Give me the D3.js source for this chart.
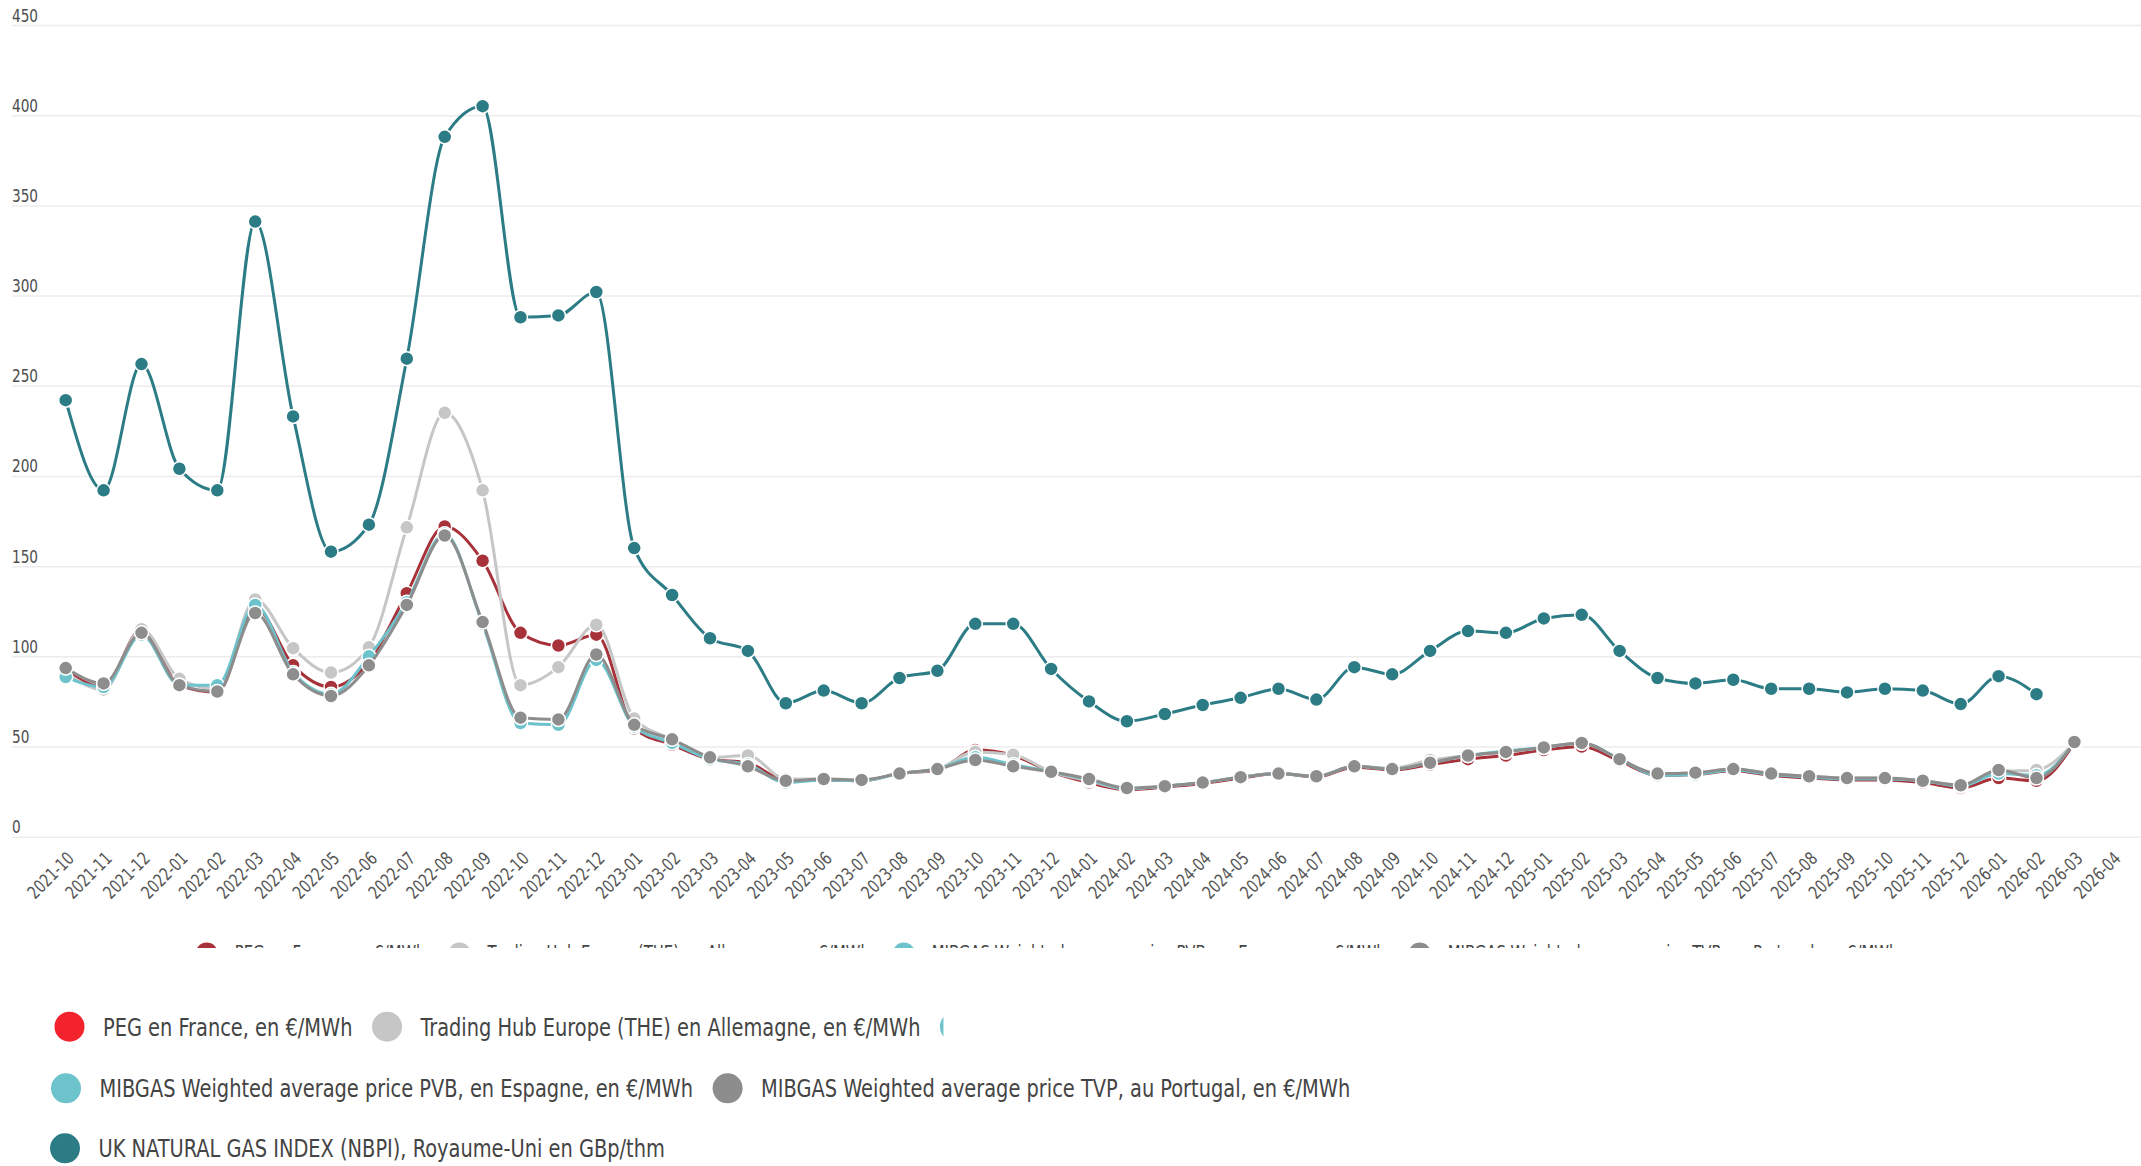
<!DOCTYPE html>
<html>
<head>
<meta charset="utf-8">
<script src="https://cdn.jsdelivr.net/npm/d3@7"></script>
<style>
  body { margin: 0; background: #fff; }
  svg text { font-family: "Liberation Sans Narrow", "DejaVu Sans Condensed", "Roboto Condensed", sans-serif; }
</style>
</head>
<body>
<div id="wrapper"></div>
<script>
// months on the x axis
const months = [
  "2021-10","2021-11","2021-12",
  "2022-01","2022-02","2022-03","2022-04","2022-05","2022-06","2022-07","2022-08","2022-09","2022-10","2022-11","2022-12",
  "2023-01","2023-02","2023-03","2023-04","2023-05","2023-06","2023-07","2023-08","2023-09","2023-10","2023-11","2023-12",
  "2024-01","2024-02","2024-03","2024-04","2024-05","2024-06","2024-07","2024-08","2024-09","2024-10","2024-11","2024-12",
  "2025-01","2025-02","2025-03","2025-04","2025-05","2025-06","2025-07","2025-08","2025-09","2025-10","2025-11","2025-12",
  "2026-01","2026-02","2026-03","2026-04"
]
const yTicks = [0, 50, 100, 150, 200, 250, 300, 350, 400, 450]

// series values
const peg = [92, 83, 115, 84, 80, 127, 95, 83, 97, 135, 172, 153, 113, 106, 112,
  60, 51, 43, 41, 31, 31.5, 31, 35, 37, 48, 45, 36,
  30, 26, 27.5, 29.5, 32.5, 35, 33, 38.5, 37, 40, 43, 45,
  48, 50, 42, 34, 34.5, 36.5, 34, 32.5, 31.5, 31.5, 30, 27,
  32.5, 31, 52, null]
const the = [91, 81.5, 115, 87.5, 82, 131.5, 104.5, 91, 105, 171.5, 235, 192, 84, 94, 117.5,
  65.5, 54, 44, 45, 32, 32, 31, 35, 37.5, 47, 45.5, 36,
  31, 26.5, 28, 30, 33, 35, 33.5, 39, 38, 42.5, 45, 47,
  49.5, 52, 43, 35, 35.5, 37.5, 35, 33.5, 32.5, 32.5, 31, 28.5,
  36, 37, 52, null]
const pvb = [88.5, 83, 112, 84, 84, 128.5, 91, 79, 100, 130, 168, 118, 63, 62, 98,
  61, 52, 43, 40, 30, 31.5, 31, 35, 37.5, 44, 40, 36,
  31.5, 26.5, 28, 30, 33, 35, 33.5, 39, 37.5, 41, 45, 47.5,
  49.5, 52, 43, 34, 34.5, 37, 34.5, 33, 32, 32, 31, 28,
  35, 34, 52, null]
const tvp = [93.5, 85, 113, 84, 80.5, 124, 90, 78, 95, 128.5, 167, 119, 66, 65, 101,
  62, 54, 44, 39, 31, 32, 31.5, 35, 37.5, 42.5, 39, 36,
  32, 27, 28, 30, 33, 35, 33.5, 39, 37.5, 41, 45, 47,
  49.5, 52, 43, 35, 35.5, 37.5, 35, 33.5, 32.5, 32.5, 31, 28.5,
  37, 32.5, 52.5, null]
const nbp = [242, 192, 262, 204, 192, 341, 233, 158, 173, 265, 388, 405, 288, 289, 302,
  160, 134, 110, 103, 74, 81, 74, 88, 92, 118, 118, 93,
  75, 64, 68, 73, 77, 82, 76, 94, 90, 103, 114, 113,
  121, 123, 103, 88, 85, 87, 82, 82, 80, 82, 81, 73.5,
  89, 79, null, null]

const seriesNames = [
  "PEG en France, en €/MWh",
  "Trading Hub Europe (THE) en Allemagne, en €/MWh",
  "MIBGAS Weighted average price PVB, en Espagne, en €/MWh",
  "MIBGAS Weighted average price TVP, au Portugal, en €/MWh",
  "UK NATURAL GAS INDEX (NBPI), Royaume-Uni en GBp/thm"
]

const series = [
  { name: seriesNames[0], values: peg, color: "#a8323a", legend: "#f3232e" },
  { name: seriesNames[1], values: the, color: "#c6c6c6", legend: "#c6c6c6" },
  { name: seriesNames[2], values: pvb, color: "#6cc3cb", legend: "#6cc3cb" },
  { name: seriesNames[3], values: tvp, color: "#8d8d8d", legend: "#8d8d8d" },
  { name: seriesNames[4], values: nbp, color: "#2c7c86", legend: "#2c7c86" },
]

const width = 2141
const height = 1166
const narrow = 0.845 // squeeze the condensed fallback font to a narrow width

function squeeze(sel, k) {
  sel.each(function () {
    const len = this.getComputedTextLength()
    d3.select(this)
      .attr("textLength", len * k)
      .attr("lengthAdjust", "spacingAndGlyphs")
  })
}

const svg = d3.select("#wrapper").append("svg")
  .attr("width", width)
  .attr("height", height)

const xScale = d3.scalePoint()
  .domain(months)
  .range([65.7, 2112.3])

const yScale = d3.scaleLinear()
  .domain([0, 450])
  .range([836.7, 25])

// gridlines + y labels
const yAxis = svg.append("g")
  .attr("transform", "translate(12,0)")
  .call(d3.axisRight(yScale).tickValues(yTicks).tickSize(2129).tickFormat(d3.format("d")))
yAxis.select(".domain").remove()
yAxis.selectAll(".tick line")
  .attr("stroke", "#ececec")
  .attr("stroke-width", 1.5)
yAxis.selectAll(".tick text")
  .attr("x", 0)
  .attr("dy", -4)
  .attr("text-anchor", "start")
  .attr("fill", "#4d4d4d")
  .style("font-size", "18.5px")
  .call(squeeze, 0.82)

// x labels
const xAxis = svg.append("g")
  .attr("transform", `translate(0,${yScale(0)})`)
  .call(d3.axisBottom(xScale).tickSize(0))
xAxis.select(".domain").remove()
xAxis.selectAll(".tick text")
  .attr("y", 0)
  .attr("dy", 0)
  .attr("text-anchor", "end")
  .attr("transform", "translate(9,23) rotate(-45)")
  .attr("fill", "#555")
  .style("font-size", "18px")
  .call(squeeze, 0.84)

// lines and dots
const line = d3.line()
  .defined(d => d != null)
  .x((d, i) => xScale(months[i]))
  .y(d => yScale(d))
  .curve(d3.curveMonotoneX)

series.forEach(s => {
  const g = svg.append("g")
  g.append("path")
    .datum(s.values)
    .attr("fill", "none")
    .attr("stroke", s.color)
    .attr("stroke-width", 3)
    .attr("d", line)
  g.selectAll("circle")
    .data(s.values.map((v, i) => ({ v, m: months[i] })).filter(d => d.v != null))
    .join("circle")
    .attr("cx", d => xScale(d.m))
    .attr("cy", d => yScale(d.v))
    .attr("r", 7)
    .attr("fill", s.color)
    .attr("stroke", "#fff")
    .attr("stroke-width", 1.5)
})

// clipped inner legend (only the top of it shows)
svg.append("clipPath").attr("id", "legclip")
  .append("rect").attr("x", 0).attr("y", 0).attr("width", width).attr("height", 948)
const innerLeg = svg.append("g").attr("clip-path", "url(#legclip)")
let cx = 206.7
series.slice(0, 4).forEach(s => {
  innerLeg.append("circle")
    .attr("cx", cx).attr("cy", 953.5).attr("r", 11)
    .attr("fill", s.color)
  const t = innerLeg.append("text")
    .attr("x", cx + 28).attr("y", 959)
    .attr("fill", "#444")
    .style("font-size", "19.5px")
    .text(s.name)
  const len = t.node().getComputedTextLength() * narrow
  t.attr("textLength", len).attr("lengthAdjust", "spacingAndGlyphs")
  cx = cx + 28 + len + 34
})

// outer legend
const legendRows = [
  { items: [0, 1, 2], x: 69.5, y: 1026.7, clip: true },
  { items: [2, 3], x: 66, y: 1088.3 },
  { items: [4], x: 65, y: 1148.3 },
]
legendRows.forEach((row, ri) => {
  const g = svg.append("g")
  let lx = row.x
  let clipAt = null
  row.items.forEach((k, j) => {
    const s = series[k]
    if (row.clip && j === row.items.length - 1) clipAt = lx - 11.5
    g.append("circle")
      .attr("cx", lx).attr("cy", row.y).attr("r", 15)
      .attr("fill", s.legend)
    const t = g.append("text")
      .attr("x", lx + 33.5).attr("y", row.y + 9)
      .attr("fill", "#444")
      .style("font-size", "25.5px")
      .text(s.name)
    const len = t.node().getComputedTextLength() * narrow
    t.attr("textLength", len).attr("lengthAdjust", "spacingAndGlyphs")
    lx = lx + 33.5 + len + 34.5
  })
  if (clipAt != null) {
    // the last item of the first row is cut off, only its left edge shows
    svg.append("clipPath").attr("id", "rowclip" + ri)
      .append("rect").attr("x", 0).attr("y", row.y - 40).attr("width", clipAt).attr("height", 80)
    g.attr("clip-path", `url(#rowclip${ri})`)
  }
})
</script>
</body>
</html>
